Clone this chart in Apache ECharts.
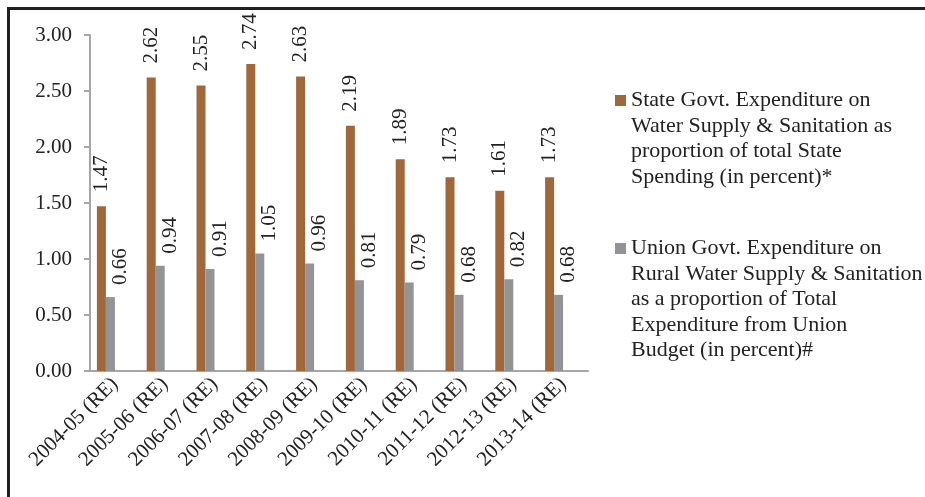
<!DOCTYPE html>
<html>
<head>
<meta charset="utf-8">
<script src="https://cdn.jsdelivr.net/npm/echarts@6/dist/echarts.min.js"></script>
<style>
	html, body { margin: 0; padding: 0; background: #fff; }
	#myChart { width: 925px; height: 497px; }
</style>
</head>
<body>
<div id="myChart"></div>
<script>
var years = ['2004-05 (RE)', '2005-06 (RE)', '2006-07 (RE)', '2007-08 (RE)', '2008-09 (RE)',
	'2009-10 (RE)', '2010-11 (RE)', '2011-12 (RE)', '2012-13 (RE)', '2013-14 (RE)'];
var stateSpend = [1.47, 2.62, 2.55, 2.74, 2.63, 2.19, 1.89, 1.73, 1.61, 1.73];
var unionSpend = [0.66, 0.94, 0.91, 1.05, 0.96, 0.81, 0.79, 0.68, 0.82, 0.68];
var yTicks = [0, 0.5, 1, 1.5, 2, 2.5, 3];

var stateName = 'State Govt. Expenditure on Water Supply & Sanitation as proportion of total State Spending (in percent)*';
var unionName = 'Union Govt. Expenditure on Rural Water Supply & Sanitation as a proportion of Total Expenditure from Union Budget (in percent)#';
var legendLines = {};
legendLines[stateName] = ['State Govt. Expenditure on', 'Water Supply & Sanitation as', 'proportion of total State', 'Spending (in percent)*'];
legendLines[unionName] = ['Union Govt. Expenditure on', 'Rural Water Supply & Sanitation', 'as a proportion of Total', 'Expenditure from Union', 'Budget (in percent)#'];

var font = '"Liberation Serif", "DejaVu Serif", serif';
var lineH = 25.5;

// legend text is centred on the icon, so pad blank lines above
// to bring the first line level with the square
function legendFor(name, iconY) {
	var n = legendLines[name].length;
	var blanks = new Array(n).join('\n');
	return {
		data: [name],
		orient: 'vertical',
		left: 615,
		top: iconY - (2 * n - 1) * lineH / 2,
		padding: 0,
		icon: 'rect',
		itemWidth: 11,
		itemHeight: 11,
		selectedMode: false,
		formatter: function(nm){ return blanks + legendLines[nm].join('\n'); },
		textStyle: {
			fontFamily: font,
			fontSize: 22,
			color: '#222',
			lineHeight: lineH
		}
	};
}

function barLabel(dist, dx) {
	return {
		show: true,
		position: 'top',
		rotate: 90,
		align: 'left',
		verticalAlign: 'middle',
		distance: dist,
		offset: [0, dx],
		fontFamily: font,
		fontSize: 21,
		color: '#222',
		formatter: function(p){ return p.value.toFixed(2); }
	};
}

var option = {
	backgroundColor: '#fff',
	animation: false,
	graphic: [{
		type: 'rect',
		shape: { x: 8.5, y: 8.5, width: 1000, height: 1000 },
		style: { fill: 'none', stroke: '#231f20', lineWidth: 3 },
		silent: true
	}],
	legend: [
		legendFor(stateName, 100.5),
		legendFor(unionName, 248.5)
	],
	grid: { left: 90, right: 337, top: 35, bottom: 126 },
	xAxis: {
		type: 'category',
		data: years,
		axisLine: { lineStyle: { color: '#a6a6a6', width: 2 } },
		axisTick: { length: 6, lineStyle: { color: '#a6a6a6', width: 2 } },
		axisLabel: { rotate: 45, margin: 10, fontFamily: font, fontSize: 21, color: '#222', interval: 0 }
	},
	yAxis: {
		type: 'value',
		min: yTicks[0],
		max: yTicks[yTicks.length - 1],
		interval: 0.5,
		splitLine: { show: false },
		axisLine: { show: true, lineStyle: { color: '#a6a6a6', width: 2 } },
		axisTick: { show: true, length: 6, lineStyle: { color: '#a6a6a6', width: 2 } },
		axisLabel: {
			margin: 18,
			fontFamily: font,
			fontSize: 21,
			color: '#222',
			formatter: function(v){ return v.toFixed(2); }
		}
	},
	series: [
		{
			name: stateName,
			type: 'bar',
			data: stateSpend,
			barWidth: 9,
			barGap: 0,
			itemStyle: { color: '#a0673a' },
			label: barLabel(14, 0)
		},
		{
			name: unionName,
			type: 'bar',
			data: unionSpend,
			barWidth: 9,
			barGap: 0,
			itemStyle: { color: '#929497' },
			label: barLabel(12, 10)
		},
		// two empty slots, the source chart keeps room for them
		{ name: 'spare1', type: 'bar', data: [], barWidth: 9, barGap: 0 },
		{ name: 'spare2', type: 'bar', data: [], barWidth: 9, barGap: 0 }
	]
};

var myChart = echarts.init(document.getElementById('myChart'));
myChart.setOption(option);
</script>
</body>
</html>
